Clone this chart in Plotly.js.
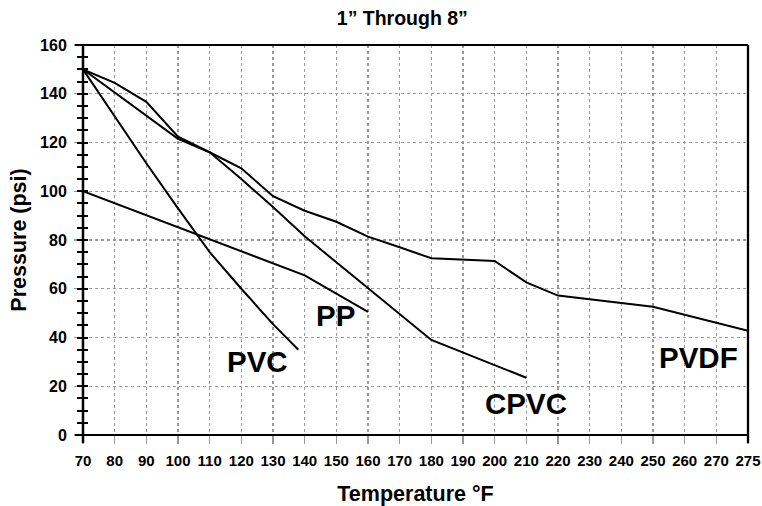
<!DOCTYPE html>
<html><head><meta charset="utf-8">
<script src="https://cdn.plot.ly/plotly-3.0.1.min.js"></script>
<style>html,body{margin:0;padding:0;background:#fff}</style>
</head><body><div id="chart" style="width:762px;height:506px"></div>
<script>
// Tick labels (temperature, °F) and pressure axis
const tempTicks = [70,80,90,100,110,120,130,140,150,160,170,180,190,200,210,220,230,240,250,260,270,275];

// Series (temperature °F -> pressure psi)
const pvcT  = [70, 80, 90, 100, 110, 120, 130, 138];
const pvcP  = [150, 130.7, 111.5, 93, 75, 60, 45.5, 35];

const ppT   = [70, 140, 160];
const ppP   = [100, 65.5, 50.5];

const cpvcT = [70, 100, 110, 120, 130, 140, 180, 210];
const cpvcP = [150, 121.5, 116, 105, 93.5, 81.5, 39, 23.5];

const pvdfT = [70, 80, 90, 100, 110, 120, 130, 140, 150, 160, 170, 180, 200, 210, 220, 250, 275];
const pvdfP = [150, 144.5, 136.7, 122.4, 116, 109.4, 98, 92, 87.5, 81.4, 77, 72.5, 71.4, 62.6, 57.2, 52.6, 42.8];

// Series labels
const seriesNames = ['PVC', 'PP', 'CPVC', 'PVDF'];
const labelT = [125.2, 149.8, 209.9, 264.5];
const labelP = [30.3, 49.2, 13.1, 32];

// The last tick (275) sits one full tick step after 270
function xpos(t) { return t > 270 ? 270 + (t - 270) * 2 : t; }

const bold = 'Liberation Sans, Arial, Helvetica, sans-serif';

// pick a narrow face for the x tick labels if one is installed
function hasFont(name) {
  const c = document.createElement('canvas').getContext('2d');
  c.font = 'bold 40px monospace';
  const w0 = c.measureText('1234567890').width;
  c.font = 'bold 40px "' + name + '", monospace';
  return Math.abs(c.measureText('1234567890').width - w0) > 0.5;
}
let xTickFont = {family: bold, size: 15, weight: 'bold', color: '#000'};
if (hasFont('Liberation Sans Narrow')) {
  xTickFont = {family: 'Liberation Sans Narrow, sans-serif', size: 16, weight: 'bold', color: '#000'};
}

const lineStyle = {color: '#000', width: 2};
const series = [[pvcT, pvcP], [ppT, ppP], [cpvcT, cpvcP], [pvdfT, pvdfP]];
const traces = series.map((s, i) => ({
  type: 'scatter', mode: 'lines', name: seriesNames[i],
  x: s[0].map(xpos), y: s[1], line: lineStyle, hoverinfo: 'skip'
}));
// helper traces to attach tick-only overlay axes
traces.push({type:'scatter', mode:'none', x:[70], y:[0], yaxis:'y2', hoverinfo:'skip', showlegend:false});
traces.push({type:'scatter', mode:'none', x:[70], y:[0], yaxis:'y3', hoverinfo:'skip', showlegend:false});

const tickOverlay = (dir) => ({
  overlaying: 'y', side: 'left', range: [0, 160], tickmode: 'linear', tick0: 0, dtick: 5,
  ticks: dir, ticklen: 5, tickwidth: 2, tickcolor: '#000',
  showticklabels: false, showgrid: false, zeroline: false, showline: false, fixedrange: true
});

const layout = {
  width: 762, height: 506,
  margin: {l: 83, r: 14, t: 45, b: 71},
  paper_bgcolor: '#fff', plot_bgcolor: '#fff',
  showlegend: false,
  font: {family: bold, color: '#000'},
  title: {
    text: '1\u201D Through 8\u201D',
    font: {family: bold, size: 19.5, weight: 'bold', color: '#000'},
    xref: 'container', yref: 'container', x: 0.528, xanchor: 'center', y: 0.964, yanchor: 'middle'
  },
  xaxis: {
    range: [70, 280], tickmode: 'array',
    tickvals: tempTicks.map(xpos), ticktext: tempTicks.map(String),
    tickangle: 0,
    showgrid: true, gridcolor: '#999', griddash: 'dot', gridwidth: 1.2,
    ticks: 'outside', ticklen: 8, tickcolor: '#999', tickwidth: 1.2,
    showline: false, zeroline: false,
    tickfont: xTickFont,
    ticklabelstandoff: 4,
    title: {text: 'Temperature \u00B0F', font: {family: bold, size: 21.5, weight: 'bold', color: '#000'}, standoff: 18},
    fixedrange: true
  },
  yaxis: {
    range: [0, 160], tickmode: 'linear', tick0: 0, dtick: 20,
    showgrid: true, gridcolor: '#999', griddash: 'dot', gridwidth: 1.2,
    ticks: 'outside', ticklen: 8, tickcolor: '#999', tickwidth: 1.2,
    showline: false, zeroline: false,
    tickfont: {family: bold, size: 16, weight: 'bold', color: '#000'},
    ticklabelstandoff: 4,
    title: {text: 'Pressure (psi)', font: {family: bold, size: 21.5, weight: 'bold', color: '#000'}, standoff: 7},
    fixedrange: true
  },
  yaxis2: tickOverlay('outside'),
  yaxis3: tickOverlay('inside'),
  shapes: [
    {type:'line', xref:'paper', yref:'paper', x0:0, x1:0, y0:-0.0205, y1:1, line:{color:'#000', width:2.5}},
    {type:'line', xref:'paper', yref:'paper', x0:-0.012, x1:1, y0:0, y1:0, line:{color:'#000', width:2}},
    {type:'line', xref:'paper', yref:'paper', x0:-0.012, x1:1, y0:1, y1:1, line:{color:'#000', width:2}},
    {type:'line', xref:'paper', yref:'paper', x0:1, x1:1, y0:-0.0205, y1:1, line:{color:'#000', width:2.3}}
  ],
  annotations: seriesNames.map((n, i) => ({
    text: n, x: xpos(labelT[i]), y: labelP[i], xref: 'x', yref: 'y',
    showarrow: false, xanchor: 'center', yanchor: 'middle',
    font: {family: bold, size: 29.5, weight: 'bold', color: '#000'}
  }))
};

Plotly.newPlot('chart', traces, layout, {staticPlot: true, displayModeBar: false});
</script>
</body></html>
